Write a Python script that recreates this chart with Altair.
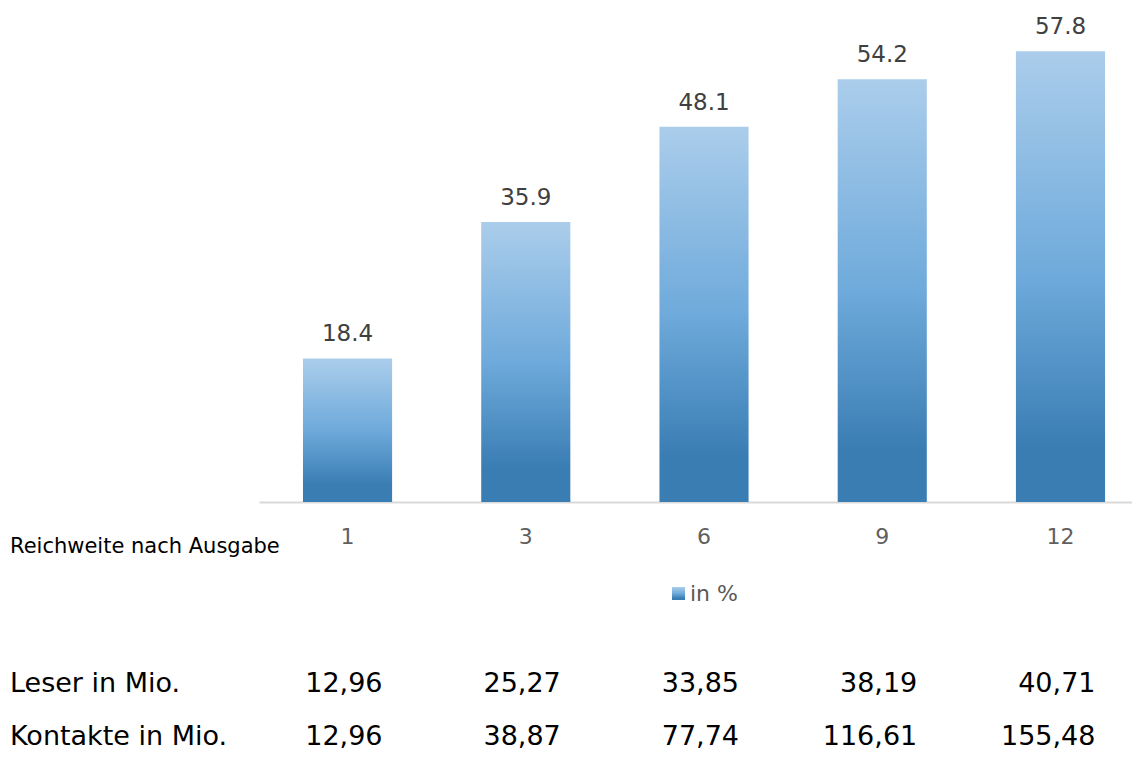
import altair as alt
import pandas as pd

issues = ["1", "3", "6", "9", "12"]
reach_pct = [18.4, 35.9, 48.1, 54.2, 57.8]
leser_mio = ["12,96", "25,27", "33,85", "38,19", "40,71"]
kontakte_mio = ["12,96", "38,87", "77,74", "116,61", "155,48"]
axis_title = "Reichweite nach Ausgabe"
row_titles = ["Leser in Mio.", "Kontakte in Mio."]
legend_label = "in %"

df = pd.DataFrame({"issue": issues, "reach": reach_pct,
                   "leser": leser_mio, "kontakte": kontakte_mio})

FONT = "DejaVu Sans"
grad = alt.Gradient(
    gradient="linear",
    stops=[alt.GradientStop(color="#abcdeb", offset=0),
           alt.GradientStop(color="#6eaadb", offset=0.5),
           alt.GradientStop(color="#3a7db3", offset=0.88),
           alt.GradientStop(color="#3a7db3", offset=1)],
    x1=0, x2=0, y1=0, y2=1)

xscale = alt.Scale(paddingInner=0.5, paddingOuter=0.199, align=0.62)
x = alt.X("issue:N", sort=issues, scale=xscale,
          axis=alt.Axis(title=None, labelAngle=0, ticks=False,
                        domainColor="#d9d9d9", domainWidth=2,
                        labelFont=FONT, labelFontSize=22,
                        labelColor="#5f5f5f", labelPadding=24, grid=False))
y = alt.Y("reach:Q", scale=alt.Scale(domain=[0, 60]), axis=None)

base = alt.Chart(df)
bars = base.mark_bar(color=grad).encode(x=x, y=y)
bar_labels = base.mark_text(baseline="alphabetic", dy=-17, font=FONT,
                            fontSize=23, color="#404040").encode(
    x=x, y=y, text=alt.Text("reach:Q", format=".1f"))

row_leser = base.mark_text(align="right", dx=35, baseline="middle", font=FONT,
                           fontSize=27, color="#000000").encode(
    x=alt.X("issue:N", sort=issues), y=alt.value(650), text="leser:N")
row_kont = base.mark_text(align="right", dx=35, baseline="middle", font=FONT,
                          fontSize=27, color="#000000").encode(
    x=alt.X("issue:N", sort=issues), y=alt.value(703), text="kontakte:N")


def left_text(txt, yv, size, color):
    return alt.Chart(pd.DataFrame({"t": [txt]})).mark_text(
        align="left", baseline="middle", font=FONT, fontSize=size, color=color
    ).encode(x=alt.value(-249), y=alt.value(yv), text="t:N")


t_axis = left_text(axis_title, 513, 21, "#000000")
t_leser = left_text(row_titles[0], 650, 27, "#000000")
t_kont = left_text(row_titles[1], 703, 27, "#000000")

leg_df = pd.DataFrame({"t": [legend_label]})
leg_swatch = alt.Chart(leg_df).mark_rect(color=grad).encode(
    x=alt.value(413), x2=alt.value(426), y=alt.value(553), y2=alt.value(566))
leg_text = alt.Chart(leg_df).mark_text(
    align="left", baseline="middle", font=FONT, fontSize=22, color="#595959"
).encode(x=alt.value(431), y=alt.value(560), text="t:N")

chart = alt.layer(
    bars, bar_labels, row_leser, row_kont, t_axis, t_leser, t_kont,
    leg_swatch, leg_text
).properties(
    width=873, height=468,
    autosize=alt.AutoSizeParams(type="none"),
    padding={"left": 251, "top": 26, "right": 0, "bottom": 250},
).configure_view(stroke=None)

chart.save("out.html", embed_options={"renderer": "svg", "actions": False})
